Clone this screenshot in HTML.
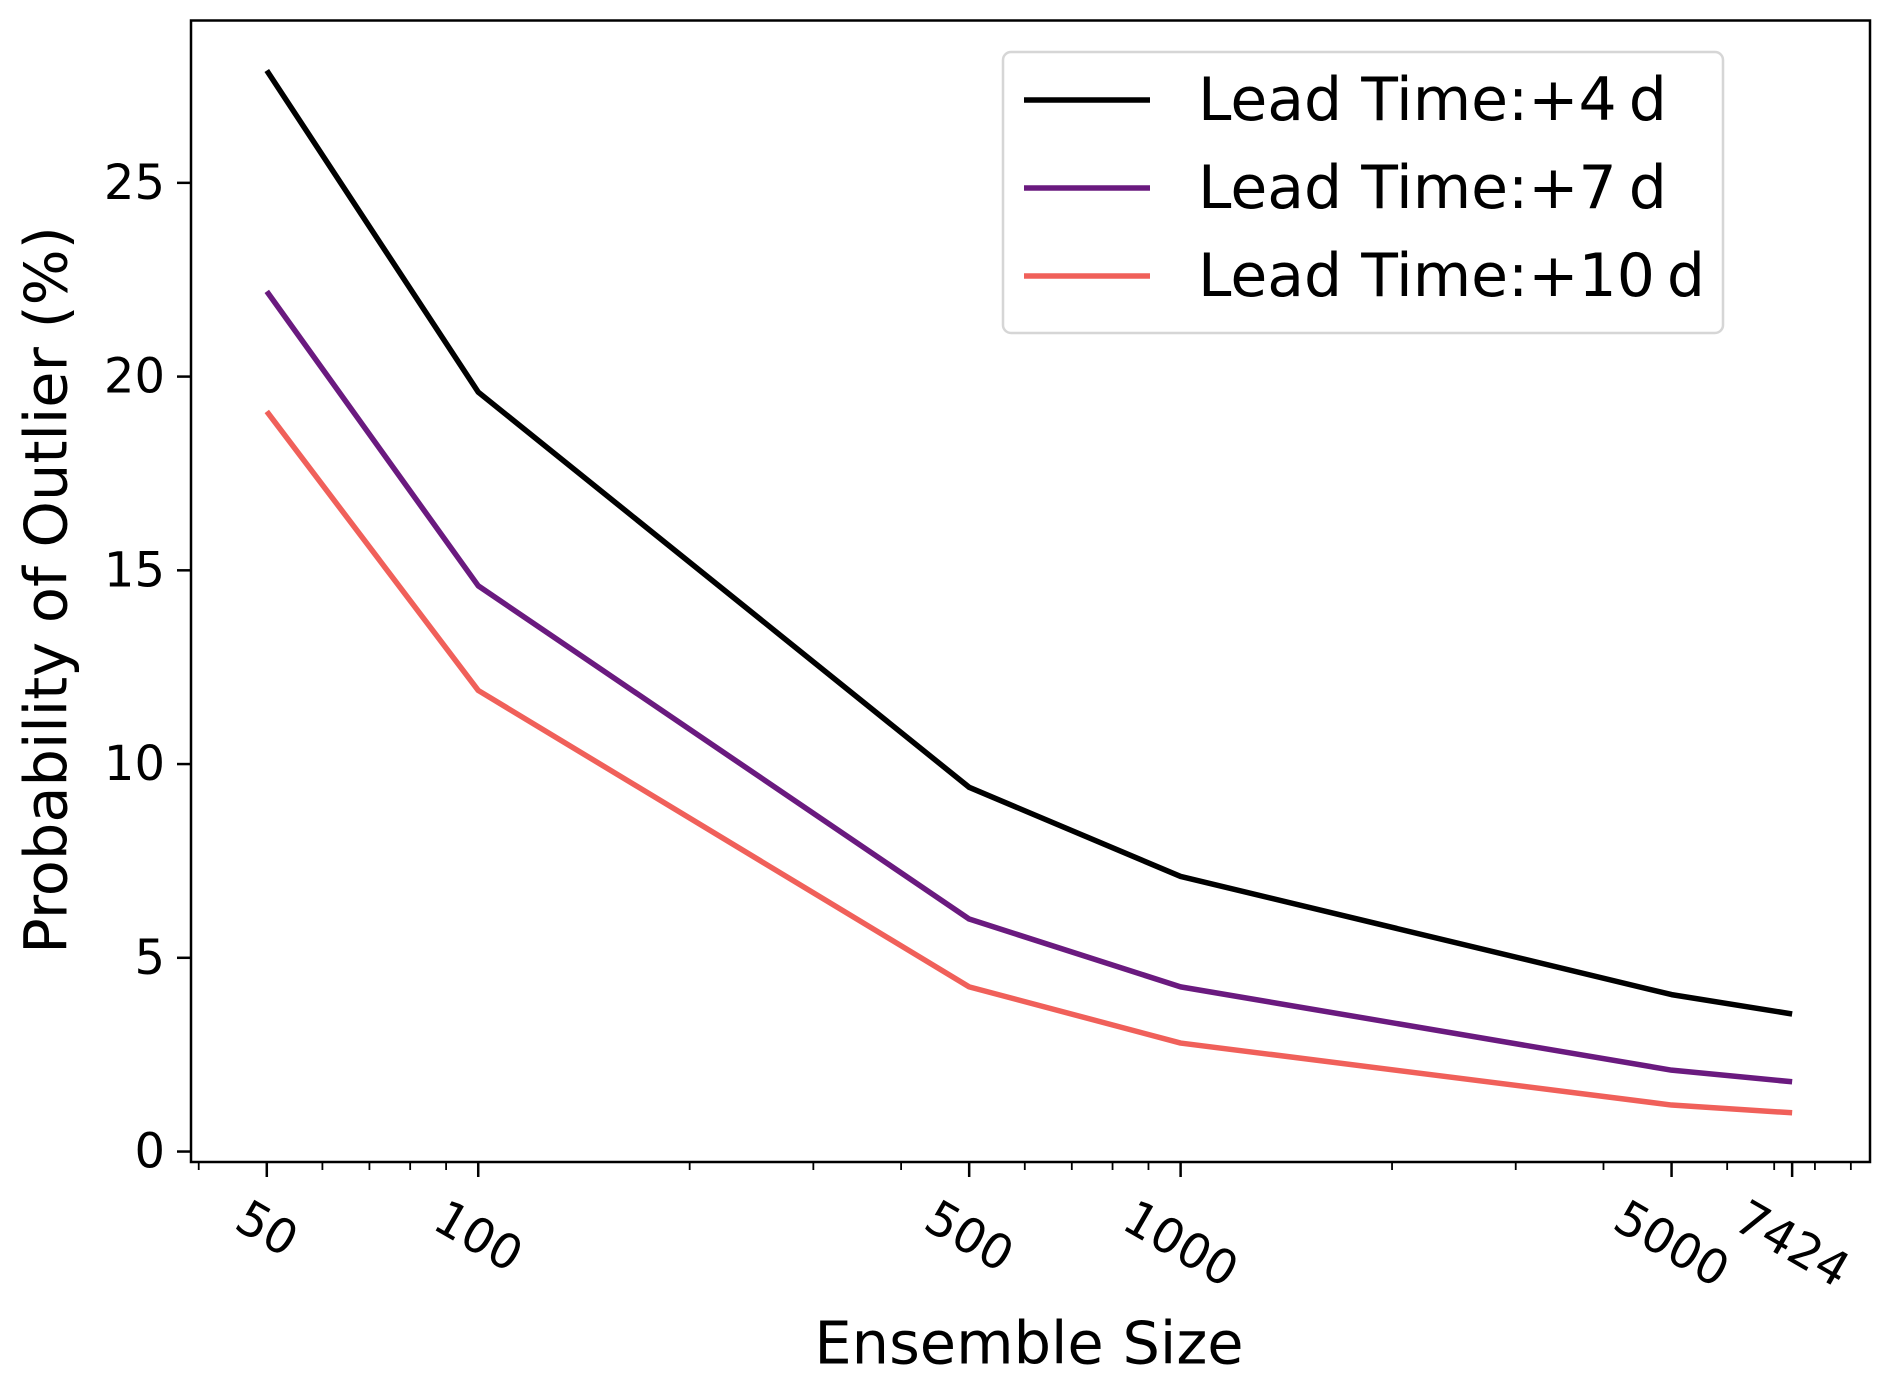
<!DOCTYPE html>
<html><head><meta charset="utf-8"><style>
html,body{margin:0;padding:0;background:#fff;}
svg{display:block;font-family:"DejaVu Sans","Liberation Sans",sans-serif;}
</style></head><body>
<svg id="chart" width="1892" height="1386" viewBox="0 0 1892 1386" xmlns="http://www.w3.org/2000/svg"></svg>
<script>
const ensembleSizes = [50, 100, 500, 1000, 5000, 7424];
const lead4 = [27.9, 19.6, 9.4, 7.1, 4.05, 3.55];
const lead7 = [22.2, 14.6, 6.0, 4.25, 2.1, 1.8];
const lead10 = [19.1, 11.9, 4.25, 2.8, 1.2, 1.0];
const seriesNames = ["Lead Time:+4\u2009d", "Lead Time:+7\u2009d", "Lead Time:+10\u2009d"];
const xTickLabels = ["50", "100", "500", "1000", "5000", "7424"];
const yTicks = [0, 5, 10, 15, 20, 25];

const L=191, R=1870, T=20.5, B=1162;
const xmin=Math.log10(39.0), xmax=Math.log10(9583);
const ymin=-0.27, ymax=29.19;
function xs(v){return L+(Math.log10(v)-xmin)/(xmax-xmin)*(R-L);}
function ys(v){return B-(v-ymin)/(ymax-ymin)*(B-T);}
const NS="http://www.w3.org/2000/svg";
const svg=document.getElementById('chart');
function mk(tag,attrs,parent){const e=document.createElementNS(NS,tag);for(const k in attrs)e.setAttribute(k,attrs[k]);(parent||svg).appendChild(e);return e;}

const colors=["#000000","#6a1a7f","#f0605a"];
const series=[lead4,lead7,lead10];
const names=["line-lead-4d","line-lead-7d","line-lead-10d"];
series.forEach((s,i)=>{
  const p=mk('polyline',{points:s.map((v,j)=>xs(ensembleSizes[j])+','+ys(v)).join(' '),fill:'none',stroke:colors[i],'stroke-width':5.5,'stroke-linejoin':'round'});
  
  
});

const fr=mk('rect',{x:L,y:T,width:R-L,height:B-T,fill:'none',stroke:'#000','stroke-width':2.5});



yTicks.forEach(v=>{
  const y=ys(v);
  mk('line',{x1:L-14,x2:L,y1:y,y2:y,stroke:'#000','stroke-width':2.5});
  const t=mk('text',{x:L-26,y:y,'text-anchor':'end','dominant-baseline':'central','font-size':48,fill:'#000'});
  t.textContent=String(v);
  
  
});

for(let d=10; d<=10000; d*=10){
  for(let m=1;m<10;m++){
    const v=m*d;
    if(v<39||v>9583) continue;
    if(ensembleSizes.indexOf(v)>=0) continue;
    const x=xs(v);
    mk('line',{x1:x,x2:x,y1:B,y2:B+8,stroke:'#000','stroke-width':1.8});
  }
}
ensembleSizes.forEach((v,i)=>{
  const x=xs(v);
  mk('line',{x1:x,x2:x,y1:B,y2:B+15,stroke:'#000','stroke-width':2.5});
  const t=mk('text',{'text-anchor':'middle','dominant-baseline':'central','font-size':48,fill:'#000'});
  t.textContent=xTickLabels[i];
  
  
  const w=t.getComputedTextLength();
  const h=36;
  const cy=1198+(w/2*0.5+h/2*0.866);
  t.setAttribute('transform','translate('+x+','+cy+') rotate(30)');
});

const xt=mk('text',{x:1029,y:1343,'text-anchor':'middle','dominant-baseline':'central','font-size':59,fill:'#000'});
xt.textContent='Ensemble Size';


const yt=mk('text',{'text-anchor':'middle','dominant-baseline':'central','font-size':59,fill:'#000',transform:'translate(46,590) rotate(-90)'});
yt.textContent='Probability of Outlier (%)';



const lg=mk('g',{});


mk('rect',{x:1003,y:52,width:720,height:281,rx:8,fill:'#fff','fill-opacity':0.8,stroke:'#d6d6d6','stroke-width':2.5},lg);
const ly=[100,188,276];
seriesNames.forEach((n,i)=>{
  const e=mk('g',{},lg);
  
  
  mk('line',{x1:1024,x2:1150,y1:ly[i],y2:ly[i],stroke:colors[i],'stroke-width':5.5},e);
  const t=mk('text',{x:1198,y:ly[i],'dominant-baseline':'central','font-size':60,fill:'#000'},e);
  t.textContent=n;
});
</script>
</body></html>
